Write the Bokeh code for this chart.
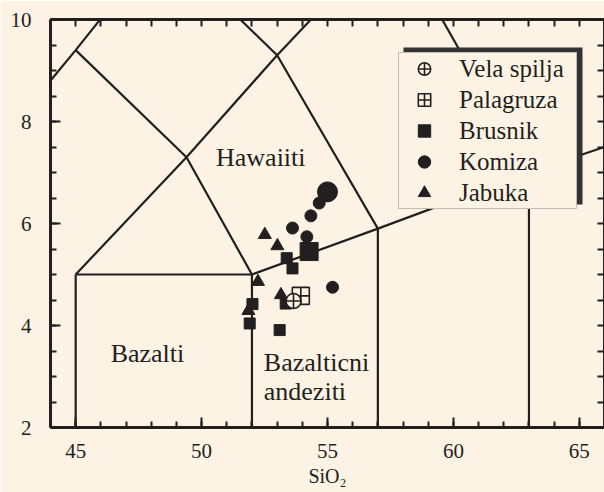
from bokeh.plotting import figure
from bokeh.models import (Range1d, LinearAxis, Legend, LegendItem, BoxAnnotation,
                          FixedTicker, ColumnDataSource)
from bokeh.core.properties import value
from bokeh.embed import file_html
from bokeh.resources import INLINE

# ---------------- data ----------------
vela_x = [53.65]
vela_y = [4.48]
palagruza_x = [53.94]
palagruza_y = [4.58]
brusnik_x = [53.38, 53.61, 52.02, 51.91, 53.10, 53.34]
brusnik_y = [5.32, 5.12, 4.42, 4.04, 3.91, 4.43]
brusnik_big_x = [54.27]
brusnik_big_y = [5.45]
komiza_x = [54.67, 54.34, 53.61, 54.18, 55.20]
komiza_y = [6.40, 6.15, 5.91, 5.74, 4.75]
komiza_big_x = [55.00]
komiza_big_y = [6.62]
jabuka_x = [52.51, 53.01, 52.24, 53.15, 51.86]
jabuka_y = [5.78, 5.56, 4.86, 4.60, 4.29]

# TAS field boundaries (SiO2, Na2O+K2O)
bound_xs = [[45, 45], [45, 52], [52, 52], [57, 57], [63, 63],
            [41, 45, 48.4], [45, 49.4, 52], [45, 49.4, 53, 57.6],
            [52, 57, 63, 69], [57, 53, 48.4], [63, 57.6, 52.5]]
bound_ys = [[0, 5], [5, 5], [0, 5], [0, 5.9], [0, 7],
            [7, 9.4, 11.5], [5, 7.3, 5], [9.4, 7.3, 9.3, 11.7],
            [5, 5.9, 7, 8], [5.9, 9.3, 11.5], [7, 11.7, 14]]

x_major = [45, 50, 55, 60, 65]
x_minor = list(range(44, 67))
y_major = [2, 4, 6, 8, 10]
y_minor = [2 + 0.5 * i for i in range(17)]

field_names = ["Hawaiiti", "Bazalti", "Bazalticni", "andeziti"]
field_x = [52.35, 47.85, 52.47, 52.47]
field_y = [7.29, 3.46, 3.27, 2.70]
field_align = ["center", "center", "left", "left"]

# ---------------- style ----------------
BG = "#fdf3e4"
INK = "#231f20"
FONT = "Liberation Serif"

p = figure(width=604, height=492, output_backend="svg", toolbar_location=None,
           x_range=Range1d(44, 66), y_range=Range1d(2, 10),
           background_fill_color=BG, border_fill_color=BG,
           min_border_left=50, min_border_right=0, min_border_top=19,
           min_border_bottom=65, x_axis_label="SiO₂")
p.outline_line_color = None
p.grid.visible = False

bottom_axis = p.below[0]
left_axis = p.left[0]
bottom_axis.ticker = FixedTicker(ticks=x_major, minor_ticks=x_minor)
left_axis.ticker = FixedTicker(ticks=y_major, minor_ticks=y_minor)

# top and right frame axes: ticks only, no labels
top_axis = LinearAxis(ticker=FixedTicker(ticks=[], minor_ticks=x_minor))
right_axis = LinearAxis(ticker=FixedTicker(ticks=[], minor_ticks=y_minor))
p.add_layout(top_axis, "above")
p.add_layout(right_axis, "right")

for ax in (bottom_axis, left_axis, top_axis, right_axis):
    ax.axis_line_color = INK
    ax.axis_line_width = 3
    ax.major_tick_line_color = INK
    ax.minor_tick_line_color = INK
    ax.major_tick_line_width = 2
    ax.minor_tick_line_width = 2
    ax.major_tick_in = 10
    ax.major_tick_out = 0
    ax.minor_tick_in = 6
    ax.minor_tick_out = 0
    ax.major_label_text_font = FONT
    ax.major_label_text_font_size = "21px"
    ax.major_label_text_color = INK
    ax.axis_label_text_font = FONT
    ax.axis_label_text_font_size = "20px"
    ax.axis_label_text_font_style = "normal"
    ax.axis_label_text_color = INK

for ax in (top_axis, right_axis):
    ax.major_label_standoff = 0
    ax.minor_tick_in = 7

bottom_axis.major_label_standoff = 16
bottom_axis.axis_label_standoff = 4
left_axis.major_label_standoff = 19

# field boundaries
p.multi_line(xs=bound_xs, ys=bound_ys, line_color=INK, line_width=2.2)

# field names
fsrc = ColumnDataSource(dict(x=field_x, y=field_y, t=field_names, a=field_align))
p.text(x="x", y="y", text="t", text_align="a", source=fsrc, text_font=value(FONT),
       text_font_size="26px", text_color=INK, text_baseline="middle")

# data points
r_brus = p.scatter(brusnik_x, brusnik_y, marker="square", size=11,
                   fill_color=INK, line_color=INK)
r_brus_big = p.scatter(brusnik_big_x, brusnik_big_y, marker="square", size=18,
                       fill_color=INK, line_color=INK)
r_jab = p.scatter(jabuka_x, jabuka_y, marker="triangle", size=13,
                  fill_color=INK, line_color=INK)
r_kom = p.scatter(komiza_x, komiza_y, marker="circle", size=12,
                  fill_color=INK, line_color=INK)
r_kom_big = p.scatter(komiza_big_x, komiza_big_y, marker="circle", size=20,
                      fill_color=INK, line_color=INK)
r_pal = p.scatter(palagruza_x, palagruza_y, marker="square_cross", size=17,
                  fill_color=BG, line_color=INK, line_width=1.6)
r_vel = p.scatter(vela_x, vela_y, marker="circle_cross", size=15,
                  fill_color=BG, line_color=INK, line_width=1.6)

# legend shadow (frame-relative screen units, y measured from the bottom)
shadow = BoxAnnotation(left=353, right=532, top=380, bottom=223,
                       left_units="screen", right_units="screen",
                       top_units="screen", bottom_units="screen",
                       fill_color="#333333", fill_alpha=1, line_color=None)
p.add_layout(shadow)

items = [LegendItem(label="Vela spilja", renderers=[r_vel]),
         LegendItem(label="Palagruza", renderers=[r_pal]),
         LegendItem(label="Brusnik", renderers=[r_brus]),
         LegendItem(label="Komiza", renderers=[r_kom]),
         LegendItem(label="Jabuka", renderers=[r_jab])]
legend = Legend(items=items, location=(348, 218), glyph_width=50, glyph_height=31,
                spacing=0, padding=(0, 5, 0, 0), margin=0, label_standoff=10,
                label_width=112, label_height=31, label_text_font=FONT,
                label_text_font_size="25px", label_text_color=INK,
                background_fill_color=BG, background_fill_alpha=1,
                border_line_color="#888888", border_line_width=1)
p.add_layout(legend, "center")

open("out.html", "w").write(file_html(p, INLINE))
